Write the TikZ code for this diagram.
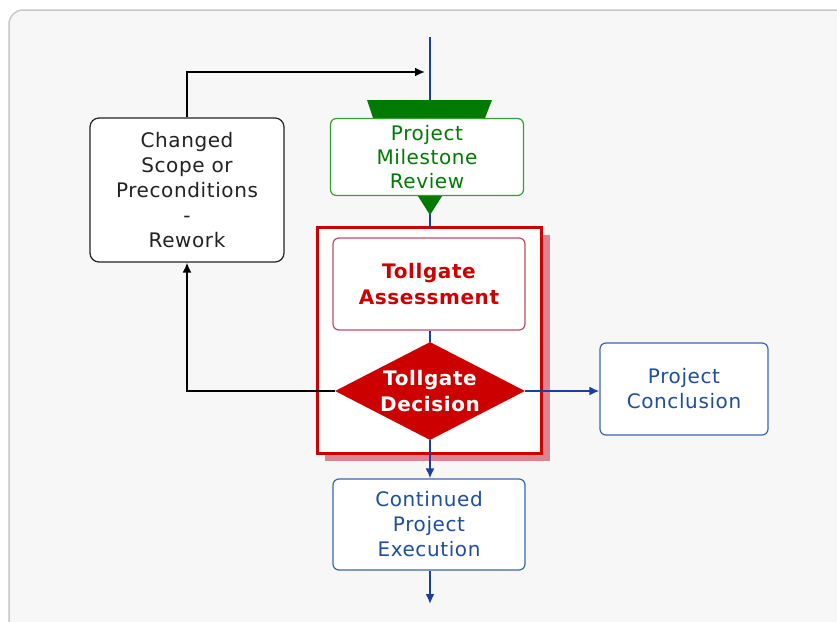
\documentclass[tikz,border=0pt]{standalone}
\usepackage{fontspec}
\setmainfont[LetterSpace=3]{DejaVu Sans}
\usetikzlibrary{shapes.geometric,arrows.meta}
\definecolor{bgfill}{HTML}{F7F7F7}
\definecolor{bgline}{HTML}{C8C8C8}
\definecolor{flowblue}{HTML}{1A3FA0}
\definecolor{txtblue}{HTML}{1F4E9E}
\definecolor{boxblue}{HTML}{3A64B4}
\definecolor{msgreen}{HTML}{007A00}
\definecolor{boxgreen}{HTML}{33A033}
\definecolor{tgred}{HTML}{CC0000}
\definecolor{tgpink}{HTML}{D98592}
\definecolor{tgline}{HTML}{C04A64}
\definecolor{darktxt}{HTML}{222222}
\tikzset{
  x=1pt, y=-1pt,
  txt/.style={font=\fontsize{20}{25}\selectfont, align=center, inner sep=0pt},
  rbox/.style={txt, draw, rounded corners=6pt, fill=white, line width=1.2pt},
  flow/.style={draw=flowblue, line width=1.8pt},
  flowarrow/.style={flow, -{Latex[length=10pt,width=9pt]}},
  backarrow/.style={draw=black, line width=1.8pt, -{Latex[length=10pt,width=9pt]}},
}
\begin{document}
\begin{tikzpicture}
\useasboundingbox (0,0) rectangle (837,621);
% background panel
\draw[bgline, fill=bgfill, line width=1.5pt, rounded corners=14pt] (9,10) rectangle (850,635);

% tollgate frame shadow and frame
\fill[tgpink] (325,235) rectangle (550,461);
\node[draw=tgred, fill=white, line width=3pt, minimum width=224pt, minimum height=226pt, inner sep=0pt] (frame) at (429,340) {};

% incoming main line
\coordinate (top) at (430,37);
\draw[flow] (top) -- (430,228);

% milestone shapes
\fill[msgreen] (367,100) -- (492,100) -- (485,118) -- (373,118) -- cycle;
\fill[msgreen] (416,193) -- (444,193) -- (430,215) -- cycle;
\node[rbox, draw=boxgreen, text=msgreen, minimum width=193pt, minimum height=77pt, font=\fontsize{20}{24}\selectfont] (review) at (427,157) {Project\\Milestone\\Review};

% changed scope
\node[rbox, draw=darktxt, text=darktxt, minimum width=194pt, minimum height=144pt, rounded corners=9pt] (changed) at (187,190) {Changed\\Scope or\\Preconditions\\-\\Rework};

% assessment
\node[rbox, draw=tgline, text=tgred, font=\fontsize{20}{25.5}\selectfont\bfseries, minimum width=192pt, minimum height=92pt] (assess) at (429,284) {Tollgate\\Assessment};

% decision
\node[diamond, fill=tgred, text=white, font=\fontsize{20}{25.5}\selectfont\bfseries, align=center, inner sep=0pt, aspect=1.94, minimum width=190pt, minimum height=98pt] (decision) at (430,391) {Tollgate\\Decision};

% outcomes
\node[rbox, draw=boxblue, text=txtblue, minimum width=192pt, minimum height=91pt] (cont) at (429,524.5) {Continued\\Project\\Execution};
\node[rbox, draw=boxblue, text=txtblue, minimum width=168pt, minimum height=92pt] (concl) at (684,389) {Project\\Conclusion};

\coordinate (bottom) at (430,604);
\coordinate (loopend) at (425,72);

% connectors
\draw[flow] (430,284 |- assess.south) -- (decision.north);
\draw[flowarrow] (decision.south) -- (cont.north -| decision.south);
\draw[flowarrow] (cont.south -| decision.south) -- (bottom);
\draw[flowarrow] (decision.east) -- (concl.west |- decision.east);
\draw[backarrow] (decision.west) -| (changed.south);
\draw[backarrow] (changed.north) |- (loopend);
\end{tikzpicture}
\end{document}
